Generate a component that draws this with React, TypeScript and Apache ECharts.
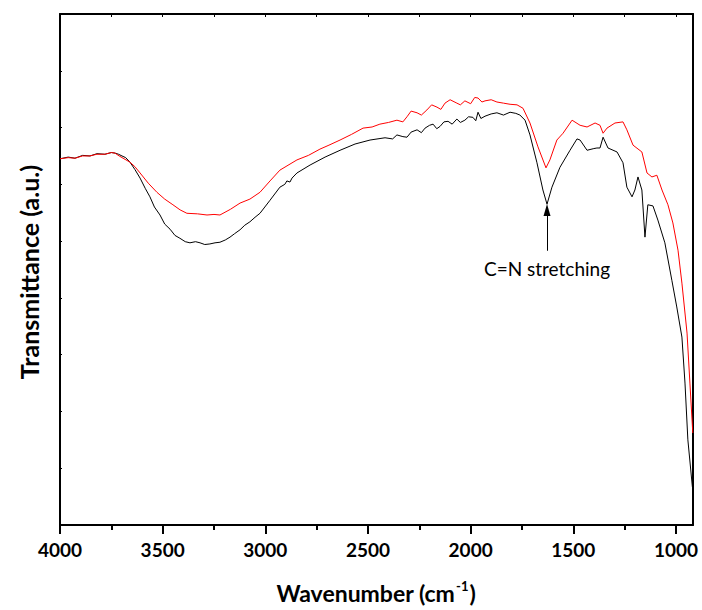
import React, { useEffect, useRef } from "react";
import * as echarts from "echarts";

// Wavenumbers (cm^-1) and transmittance (a.u.)
const blackWave = [4000, 3960, 3927, 3890, 3854, 3820, 3781, 3750, 3732, 3715, 3698, 3680, 3659, 3635, 3610, 3585, 3562, 3540, 3513, 3490, 3464, 3440, 3416, 3390, 3367, 3340, 3318, 3295, 3270, 3245, 3221, 3195, 3172, 3150, 3123, 3100, 3075, 3050, 3026, 2977, 2929, 2905, 2895, 2880, 2870, 2846, 2782, 2709, 2636, 2563, 2490, 2417, 2380, 2359, 2330, 2310, 2290, 2261, 2240, 2222, 2200, 2183, 2165, 2149, 2130, 2110, 2090, 2067, 2050, 2028, 2010, 1989, 1975, 1964, 1950, 1930, 1900, 1872, 1840, 1808, 1780, 1760, 1735, 1711, 1677, 1648, 1628, 1604, 1565, 1516, 1482, 1467, 1433, 1400, 1385, 1370, 1355, 1331, 1287, 1258, 1239, 1214, 1200, 1185, 1166, 1151, 1137, 1112, 1088, 1054, 1020, 996, 971, 956, 942, 920];
const blackValue = [64.5, 64.8, 64.6, 65.1, 65.0, 65.4, 65.3, 65.6, 65.5, 65.3, 65.0, 64.7, 63.9, 62.6, 61.1, 59.3, 57.8, 56.0, 54.6, 53.0, 52.1, 51.0, 50.5, 49.9, 49.7, 49.9, 49.7, 49.4, 49.5, 49.7, 49.8, 50.2, 50.7, 51.3, 52.0, 52.8, 53.4, 54.2, 54.9, 57.2, 59.5, 60.0, 60.6, 60.4, 61.1, 62.0, 63.4, 64.8, 66.0, 67.1, 67.8, 68.2, 68.0, 68.7, 68.4, 68.3, 69.2, 69.6, 69.1, 69.9, 70.4, 70.6, 69.8, 70.2, 71.0, 71.1, 70.6, 71.5, 70.9, 71.3, 71.9, 71.8, 71.2, 72.7, 71.6, 72.0, 72.4, 72.6, 72.2, 72.7, 72.5, 72.2, 71.3, 68.7, 63.8, 59.0, 56.5, 59.5, 63.0, 66.0, 68.0, 67.8, 66.0, 66.3, 66.4, 66.4, 68.3, 66.4, 65.7, 63.8, 59.5, 57.8, 59.0, 61.3, 59.0, 50.7, 56.4, 56.2, 53.7, 49.7, 43.1, 38.4, 33.1, 25.0, 15.0, 6.7];

const redWave = [4000, 3960, 3927, 3890, 3854, 3820, 3781, 3750, 3732, 3712, 3693, 3659, 3635, 3610, 3570, 3528, 3490, 3450, 3415, 3382, 3330, 3284, 3250, 3221, 3170, 3123, 3075, 3026, 2977, 2929, 2846, 2790, 2734, 2690, 2636, 2580, 2524, 2480, 2442, 2400, 2359, 2330, 2310, 2290, 2261, 2240, 2213, 2190, 2164, 2145, 2125, 2100, 2067, 2050, 2028, 2000, 1980, 1964, 1945, 1930, 1900, 1872, 1840, 1808, 1774, 1745, 1711, 1672, 1633, 1614, 1580, 1550, 1506, 1467, 1433, 1394, 1370, 1355, 1336, 1297, 1258, 1239, 1209, 1166, 1141, 1117, 1093, 1068, 1039, 1015, 990, 971, 946, 932, 918];
const redValue = [64.5, 64.7, 64.6, 65.0, 65.0, 65.3, 65.3, 65.6, 65.5, 65.0, 64.6, 63.9, 63.1, 62.0, 60.2, 58.6, 57.4, 56.4, 55.5, 54.9, 54.8, 54.6, 54.7, 54.6, 55.6, 56.7, 57.4, 58.6, 60.6, 62.5, 64.3, 65.1, 66.2, 66.9, 67.8, 68.8, 69.9, 70.1, 70.6, 70.9, 71.3, 71.0, 71.9, 72.9, 72.6, 72.2, 73.1, 74.0, 73.6, 73.2, 74.3, 74.9, 74.3, 74.0, 74.7, 74.2, 75.3, 75.2, 74.5, 74.7, 74.9, 74.5, 74.3, 74.1, 74.0, 73.4, 70.8, 66.6, 62.9, 64.3, 67.8, 69.0, 71.3, 70.4, 70.1, 70.8, 70.4, 69.0, 69.9, 70.8, 71.0, 69.6, 66.9, 65.7, 62.0, 61.3, 61.6, 59.0, 56.4, 53.2, 48.4, 42.6, 33.8, 25.0, 16.2];

const majorTicks = [4000, 3500, 3000, 2500, 2000, 1500, 1000];
const minorTicks = [3750, 3250, 2750, 2250, 1750, 1250];
const allTicks = [4000, 3750, 3500, 3250, 3000, 2750, 2500, 2250, 2000, 1750, 1500, 1250, 1000];

const annotationWave = 1628;
const annotationFrom = 48.3;
const annotationTo = 55.5;
const annotationText = "C=N stretching";

const X_MIN = 917;
const X_MAX = 4000;

const FONT = "Lato";

export default function App() {
  const ref = useRef<HTMLDivElement>(null);
  useEffect(() => {
    if (!ref.current) return;
    const chart = echarts.init(ref.current, undefined, { renderer: "svg" });
    const black = blackWave.map((w, i) => [w, blackValue[i]]);
    const red = redWave.map((w, i) => [w, redValue[i]]);
    const baseX = {
      type: "value",
      min: X_MIN,
      max: X_MAX,
      inverse: true,
      splitLine: { show: false },
    };
    chart.setOption({
      animation: false,
      grid: { left: 60, right: 9, top: 14, bottom: 85, containLabel: false, outerBoundsMode: "none" },
      xAxis: [
        {
          ...baseX,
          position: "bottom",
          axisLine: { show: true, lineStyle: { color: "#000", width: 2 } },
          axisTick: {
            show: true,
            inside: false,
            length: 9,
            lineStyle: { color: "#000", width: 2 },
            customValues: majorTicks,
          },
          axisLabel: {
            show: true,
            customValues: majorTicks,
            formatter: (v: number) => String(v),
            color: "#000",
            fontFamily: FONT,
            fontWeight: "bold",
            fontSize: 19,
            margin: 15,
          },
        },
        {
          ...baseX,
          position: "bottom",
          axisLine: { show: false },
          axisTick: {
            show: true,
            inside: false,
            length: 5,
            lineStyle: { color: "#000", width: 2 },
            customValues: minorTicks,
          },
          axisLabel: { show: false },
        },
        {
          ...baseX,
          position: "top",
          axisLine: { show: true, lineStyle: { color: "#000", width: 2 } },
          axisTick: {
            show: true,
            inside: true,
            length: 3,
            lineStyle: { color: "#000", width: 1 },
            customValues: allTicks,
          },
          axisLabel: { show: false },
        },
      ],
      yAxis: [
        {
          type: "value",
          min: 0,
          max: 90,
          interval: 10,
          position: "left",
          axisLine: { show: true, lineStyle: { color: "#000", width: 2 } },
          axisTick: { show: true, inside: true, length: 2, lineStyle: { color: "#000", width: 1 } },
          axisLabel: { show: false },
          splitLine: { show: false },
        },
        {
          type: "value",
          min: 0,
          max: 90,
          interval: 10,
          position: "right",
          axisLine: { show: true, lineStyle: { color: "#000", width: 2 } },
          axisTick: { show: false },
          axisLabel: { show: false },
          splitLine: { show: false },
        },
      ],
      graphic: [
        {
          type: "text",
          x: 29,
          y: 272,
          rotation: Math.PI / 2,
          style: {
            text: "Transmittance (a.u.)",
            fill: "#000",
            font: `bold 25px ${FONT}`,
            align: "center",
            verticalAlign: "middle",
          },
        },
        {
          type: "text",
          x: 376,
          y: 593,
          style: {
            text: "{a|Wavenumber (cm}{b|-1}{a|)}",
            align: "center",
            verticalAlign: "middle",
            rich: {
              a: { fontFamily: FONT, fontWeight: "bold", fontSize: 23, fill: "#000", lineHeight: 28 },
              b: { fontFamily: FONT, fontWeight: "bold", fontSize: 13, fill: "#000", verticalAlign: "top", lineHeight: 13, padding: [0, 1, 10, 1] },
            },
          },
        },
      ],
      series: [
        {
          type: "line",
          data: black,
          showSymbol: false,
          symbol: "none",
          lineStyle: { color: "#000", width: 1 },
          z: 2,
          markLine: {
            silent: true,
            symbol: ["none", "triangle"],
            symbolSize: [7, 12],
            lineStyle: { color: "#000", width: 1, type: "solid" },
            label: {
              show: true,
              position: "start",
              formatter: annotationText,
              color: "#000",
              fontFamily: FONT,
              fontSize: 19,
              distance: 8,
            },
            data: [
              [
                { coord: [annotationWave, annotationFrom] },
                { coord: [annotationWave, annotationTo] },
              ],
            ],
          },
        },
        {
          type: "line",
          data: red,
          showSymbol: false,
          symbol: "none",
          lineStyle: { color: "#ff0000", width: 1 },
          z: 3,
        },
      ],
    });
    return () => chart.dispose();
  }, []);
  return <div ref={ref} style={{ width: 702, height: 610, position: "absolute", left: 0, top: 0 }} />;
}
